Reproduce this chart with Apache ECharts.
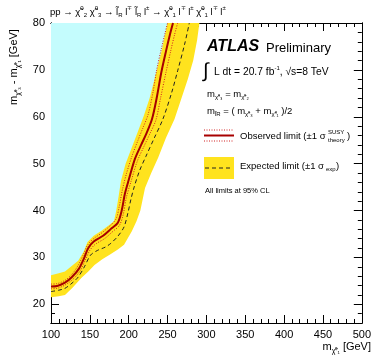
<!DOCTYPE html>
<html>
<head>
<meta charset="utf-8">
<script src="https://cdn.jsdelivr.net/npm/echarts@6/dist/echarts.min.js"></script>
<style>
  html, body { margin: 0; padding: 0; background: #fff; }
  #main { width: 374px; height: 356px; }
</style>
</head>
<body>
<div id="main"></div>
<script>
// values: [m(chi1), m(chi3) - m(chi1)]
var observed = [[100,23.8],[108,23.9],[118,24.6],[127,25.8],[136,27.6],[143,30],[148,32],[155,33.4],[167,34.6],[178,36.2],[186,37.4],[191,40],[195,43.5],[200,46.5],[208,51],[216,54],[223,56.5],[230,59.5],[236,64],[242,69.5],[248,74],[253,77.5],[257,80]];
var theoryUp = [[100,24.3],[108,24.4],[118,25.1],[127,26.4],[135,28.3],[142,30.7],[147,32.6],[155,34],[166,35.3],[177,36.9],[184,38.3],[188,41],[192,44.5],[197,47.8],[204,51.5],[212,55],[218,57.5],[225,60.5],[231,65],[236,70],[242,74.5],[247,78],[250,80]];
var theoryDown = [[100,23.3],[108,23.4],[118,24.1],[128,25.3],[137,27],[144,29.4],[150,31.5],[157,32.8],[169,34],[180,35.6],[188,36.8],[193,39.2],[197,42.8],[203,46.2],[211,50.5],[220,53.8],[227,56.3],[235,59.3],[241,64],[248,69.5],[254,74],[259,77.5],[263,80]];
var expected = [[100,22.7],[110,23.0],[118,23.4],[127,24.5],[135,25.8],[143,28],[151,30.5],[160,31.5],[170,32.2],[177,33],[186,34.5],[194,36.5],[199,39.5],[203,42.5],[207,45],[214,48.5],[222,51.5],[233,55.5],[244,59.5],[255,65],[263,69.8],[272,75.5],[278,80]];
var expUp = [[100,26.2],[110,26.6],[118,27.0],[127,28.2],[135,29.3],[142,31.2],[147,33.3],[155,34.6],[165,35.7],[175,36.9],[181,37.7],[184,40],[187,43],[190,46.3],[196,50],[203,53],[211,56.5],[219,60],[227,64],[236,69.8],[243,74.5],[247,77.7],[250,80]];
var expDown = [[100,21.5],[110,21.7],[118,22.0],[128,23.6],[139,25.6],[148,27],[156,28.4],[166,29.6],[176,30.6],[186,31.7],[194,32.7],[204,35.6],[210,37.7],[215,40],[221,44.8],[229,48],[238,51.3],[248,55.5],[259,59.5],[268,64],[276,68],[283,72],[288,76.3],[291,80]];

var xLabels = [100,150,200,250,300,350,400,450,500];
var yLabels = [20,30,40,50,60,70,80];
var xMinorTicks = [];
for (var i = 100; i <= 500; i += 10) xMinorTicks.push(i);
var yMinorTicks = [];
for (var j = 16; j <= 80; j += 2) yMinorTicks.push(j);

var FONT = 'Liberation Sans';
var CYAN = '#c4fcfd';
var YELLOW = '#ffe31e';
var RED = '#a80000';

var chart = echarts.init(document.getElementById('main'));

function axis(pos, min, max, ticks, len, labels) {
  return {
    type: 'value', position: pos, min: min, max: max,
    axisLine: { show: true, onZero: false, lineStyle: { color: '#000', width: 1 } },
    axisTick: { show: true, inside: true, length: len, customValues: ticks, lineStyle: { color: '#000' } },
    axisLabel: { show: !!labels, customValues: labels || ticks, color: '#000', fontSize: 11, fontFamily: FONT, margin: 6 },
    splitLine: { show: false }
  };
}

// polygon through the axis scales
function polygon(points, color) {
  return function (params, api) {
    return {
      type: 'polygon',
      shape: { points: points.map(function (p) { return api.coord(p); }) },
      style: { fill: color }
    };
  };
}

var cyanArea = observed.concat([[100, 80]]);
var band = expUp.concat(expDown.slice().reverse());

var rich = {
  sup: { fontSize: 6, verticalAlign: 'top', fontFamily: FONT, lineHeight: 13 },
  sub: { fontSize: 6, verticalAlign: 'bottom', fontFamily: FONT, lineHeight: 13 }
};
var richBig = {
  sub: { fontSize: 7, verticalAlign: 'bottom', fontFamily: FONT, lineHeight: 15 }
};

function txt(x, y, text, size, extra) {
  var st = { text: text, x: 0, y: 0, fill: '#000', fontSize: size, fontFamily: FONT, verticalAlign: 'middle', rich: rich, lineHeight: 13 };
  if (extra) for (var k in extra) st[k] = extra[k];
  return { type: 'text', x: x, y: y, style: st, z: 100 };
}

var option = {
  animation: false,
  grid: { left: 51, right: 7, top: 23, bottom: 33 },
  xAxis: [
    axis('bottom', 100, 500, xMinorTicks, 4, xLabels),
    axis('bottom', 100, 500, xLabels, 8),
    axis('top', 100, 500, xMinorTicks, 4),
    axis('top', 100, 500, xLabels, 8)
  ],
  yAxis: [
    axis('left', 16, 80, yMinorTicks, 4, yLabels),
    axis('left', 16, 80, yLabels, 8),
    axis('right', 16, 80, yMinorTicks, 4),
    axis('right', 16, 80, yLabels, 8)
  ],
  series: [
    { type: 'custom', clip: true, data: [[100, 80]], renderItem: polygon(cyanArea, CYAN), z: 1 },
    { type: 'custom', clip: true, data: [[100, 80]], renderItem: polygon(band, YELLOW), z: 2 },
    { type: 'line', data: expected, showSymbol: false, smooth: 0.3, z: 3,
      lineStyle: { color: '#222', width: 1, type: [4, 3] } },
    { type: 'line', data: theoryUp, showSymbol: false, smooth: 0.3, z: 4,
      lineStyle: { color: '#d02020', width: 1, type: [1, 1.5] } },
    { type: 'line', data: theoryDown, showSymbol: false, smooth: 0.3, z: 4,
      lineStyle: { color: '#d02020', width: 1, type: [1, 1.5] } },
    { type: 'line', data: observed, showSymbol: false, smooth: 0.3, z: 5,
      lineStyle: { color: RED, width: 2 } }
  ],
  graphic: [
    txt(50, 12, 'pp → χ̃{sup|0}{sub|2} χ̃{sup|0}{sub|3} → l̃{sub|R} l{sup|∓} l̃{sub|R} l{sup|±} → χ̃{sup|0}{sub|1} l{sup|∓} l{sup|±} χ̃{sup|0}{sub|1} l{sup|∓} l{sup|±}', 9.5),
    // axis titles
    txt(371, 347, 'm{sub|χ̃⁰₁} [GeV]', 11, { align: 'right', rich: richBig, lineHeight: 15 }),
    { type: 'text', x: 14, y: 67, rotation: Math.PI / 2, z: 100,
      style: { text: 'm{sub|χ̃⁰₃} - m{sub|χ̃⁰₁} [GeV]', fill: '#000', fontSize: 11, fontFamily: FONT,
               align: 'center', verticalAlign: 'middle', rich: richBig, lineHeight: 15 } },
    // ATLAS label
    txt(207, 47, 'ATLAS', 16, { fontWeight: 'bold', fontStyle: 'italic' }),
    txt(266, 48, 'Preliminary', 13),
    txt(203, 71, '∫', 20),
    txt(214, 72, 'L dt = 20.7 fb{sup|-1}, √s=8 TeV', 10.3),
    txt(207, 94, 'm{sub|χ̃⁰₃} = m{sub|χ̃⁰₂}', 9.5),
    txt(207, 111, 'm{sub|l̃R} = ( m{sub|χ̃⁰₃} + m{sub|χ̃⁰₁} )/2', 9.5),
    // legend
    { type: 'line', shape: { x1: 204, y1: 130, x2: 234, y2: 130 }, style: { stroke: '#d02020', lineWidth: 1, lineDash: [1, 1.5] }, z: 100 },
    { type: 'line', shape: { x1: 204, y1: 135.5, x2: 234, y2: 135.5 }, style: { stroke: RED, lineWidth: 2 }, z: 100 },
    { type: 'line', shape: { x1: 204, y1: 141, x2: 234, y2: 141 }, style: { stroke: '#d02020', lineWidth: 1, lineDash: [1, 1.5] }, z: 100 },
    txt(240, 136, 'Observed limit (±1 σ', 9.5),
    txt(328, 132, 'SUSY', 6),
    txt(328, 140, 'theory', 6),
    txt(347, 136, ')', 9.5),
    { type: 'rect', shape: { x: 204, y: 157, width: 30, height: 22 }, style: { fill: YELLOW }, z: 100 },
    { type: 'line', shape: { x1: 205, y1: 168, x2: 233, y2: 168 }, style: { stroke: '#222', lineWidth: 1, lineDash: [4, 3] }, z: 101 },
    txt(240, 166, 'Expected limit (±1 σ', 9.5),
    txt(326, 169, 'exp', 6),
    txt(336, 166, ')', 9.5),
    txt(205, 191, 'All limits at 95% CL', 7.5)
  ]
};

chart.setOption(option);
</script>
</body>
</html>
